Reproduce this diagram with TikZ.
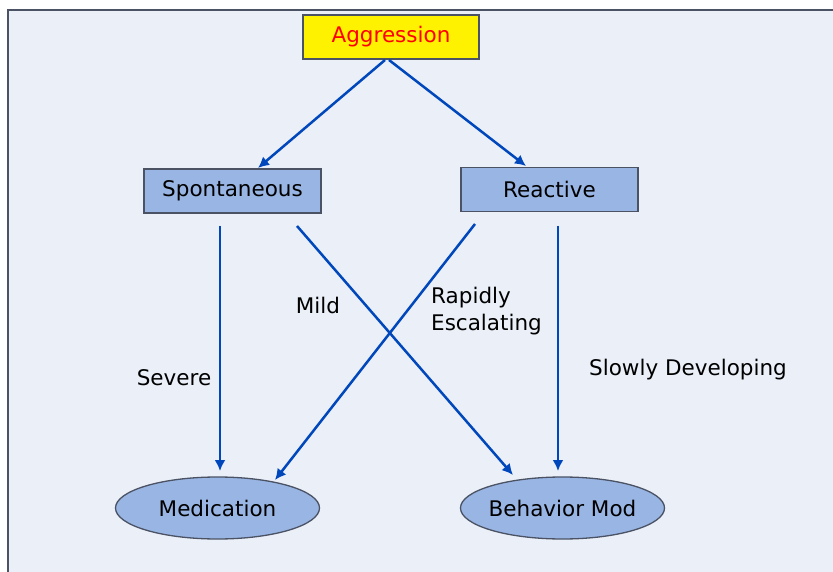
\documentclass[tikz,border=0pt]{standalone}
\usepackage{fontspec}
\setmainfont{DejaVu Sans}
\usetikzlibrary{arrows.meta,shapes.geometric}
\definecolor{bg}{RGB}{234,239,248}
\definecolor{boxfill}{RGB}{152,181,227}
\definecolor{edge}{RGB}{74,82,100}
\definecolor{arrowblue}{RGB}{0,71,187}
\tikzset{
  every node/.style={font=\fontsize{21.5}{27}\selectfont},
  rectbox/.style={draw=edge,line width=1.6pt,fill=boxfill,minimum width=177pt,minimum height=44pt,inner sep=0pt},
  topbox/.style={draw=edge,line width=1.6pt,fill=yellow,text=red,minimum width=176pt,minimum height=44pt,inner sep=0pt},
  ellbox/.style={ellipse,draw=edge,line width=1.3pt,fill=boxfill,minimum width=204pt,minimum height=62pt,inner sep=-20pt},
  link/.style={draw=arrowblue,line width=2.5pt,-{Latex[length=11pt,width=11pt]}},
  lbl/.style={inner sep=0pt}
}
\begin{document}
\begin{tikzpicture}[x=1pt,y=-1pt]
\useasboundingbox (0,0) rectangle (833,572);
\fill[white] (0,0) rectangle (833,572);
\fill[bg] (8,10) rectangle (833,572);
\draw[edge,line width=1.8pt] (8,572) -- (8,10) -- (833,10);

\node[topbox] (ag) at (391,37) {Aggression};
\node[rectbox] (sp) at (232.5,191) {Spontaneous};
\node[rectbox] (re) at (549.5,189.5) {Reactive};
\node[ellbox] (me) at (217.5,508) {Medication};
\node[ellbox] (bm) at (562.5,508) {Behavior Mod};

\coordinate (a1) at (385,60);
\coordinate (a2) at (389,60);
\coordinate (s1) at (220,226);
\coordinate (s2) at (297,226);
\coordinate (r1) at (475,224);
\coordinate (r2) at (558,226);
\coordinate (spt) at (258,168);
\coordinate (ret) at (526,166);
\coordinate (me1) at (220,471);
\coordinate (me2) at (275,480);
\coordinate (bm1) at (513,475);
\coordinate (bm2) at (558,471);

\draw[link] (a1) -- (spt);
\draw[link] (a2) -- (ret);
\draw[link] (s1) -- (me1);
\draw[link] (s2) -- (bm1);
\draw[link] (r1) -- (me2);
\draw[link] (r2) -- (bm2);

\node[lbl] (l1) at (318,305) {Mild};
\node[lbl] (l2) at (174,378) {Severe};
\node[lbl,align=left,anchor=west] (l3) at (431,311) {Rapidly\\Escalating};
\node[lbl] (l4) at (688,370) {Slowly Developing};
\end{tikzpicture}
\end{document}
